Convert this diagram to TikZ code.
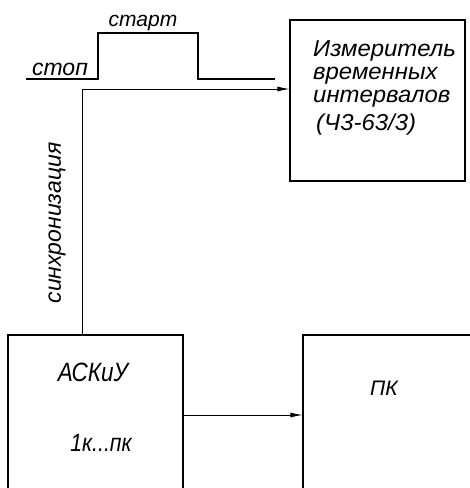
\documentclass[tikz,border=0pt]{standalone}
\usepackage{fontspec}
\setmainfont{Liberation Sans}
\newfontfamily\narrowfont{Liberation Sans}[FakeStretch=0.85]
\newfontfamily\wideboxfont{Liberation Sans}[FakeStretch=1.04]
\usetikzlibrary{arrows.meta}
\tikzset{
  blk/.style={draw, line width=1.1pt, rectangle, inner sep=0pt},
  lbl/.style={font=\itshape\fontsize{23}{26}\selectfont, inner sep=0pt},
  conn/.style={line width=0.8pt},
  arr/.style={conn, -{Latex[length=12pt,width=5pt]}},
  pulse/.style={line width=1.3pt}
}
\begin{document}
\begin{tikzpicture}[x=1pt,y=-1pt]
\clip (0,0) rectangle (470,488);
% boxes
\node[blk, minimum width=175pt, minimum height=161pt] (meas) at (377.5,100.5) {};
\node[blk, minimum width=175pt, minimum height=225pt] (ask) at (95.5,447.5) {};
\node[blk, minimum width=177pt, minimum height=225pt] (pk) at (391.5,447.5) {};
% measurer text
\node[lbl, font=\wideboxfont\itshape\fontsize{23}{23}\selectfont, align=left, anchor=north west] (mtext) at (313,40.5)
  {Измеритель\\временных\\интервалов\\[5pt]\hspace*{3pt}(Ч3-63/3)};
% other texts
\node[lbl, font=\narrowfont\itshape\fontsize{26.5}{28}\selectfont] (ask1) at (93,372) {АСКиУ};
\node[lbl, font=\narrowfont\itshape\fontsize{25}{28}\selectfont] (ask2) at (101,443) {1к...пк};
\node[lbl, font=\itshape\fontsize{21}{26}\selectfont] (pkt) at (384,388) {ПК};
\node[lbl, anchor=base] (stop) at (60,75) {стоп};
\node[lbl, font=\itshape\fontsize{21}{26}\selectfont, anchor=base] (start) at (143,26) {старт};
\node[lbl, rotate=90] (sync) at (57,223) {синхронизация};
% pulse
\coordinate (p0) at (26,79);
\coordinate (p1) at (98,79);
\coordinate (p2) at (98,33);
\coordinate (p3) at (198,33);
\coordinate (p4) at (198,79);
\coordinate (p5) at (275,79);
\draw[pulse] (p0) -- (p1) -- (p2) -- (p3) -- (p4) -- (p5);
% sync connector
\coordinate (c) at (82,89);
\draw[arr] (ask.north -| c) -- (c) -- (c -| meas.west);
% ask -> pk
\coordinate (m) at (0,415);
\draw[arr] (ask.east |- m) -- (pk.west |- m);
\end{tikzpicture}
\end{document}
